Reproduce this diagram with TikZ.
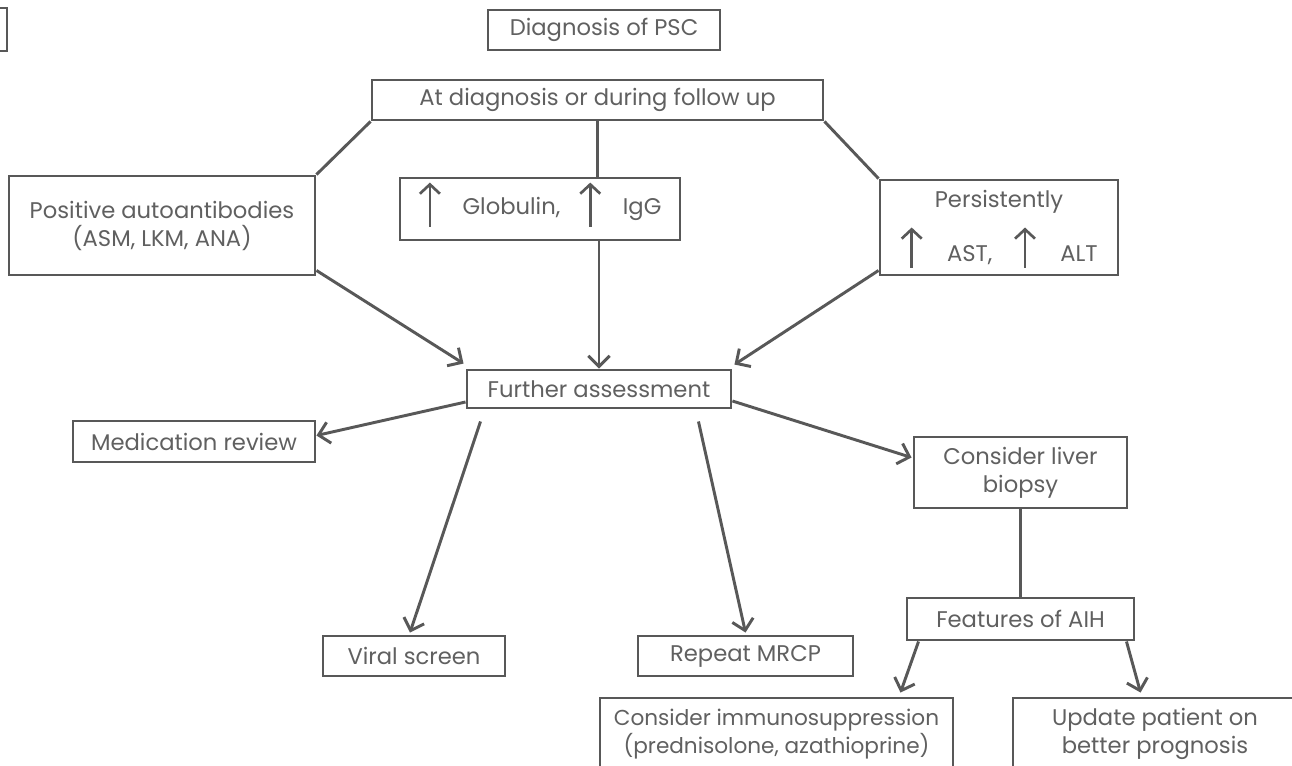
\documentclass[tikz,border=0pt]{standalone}
\usepackage{fontspec}
\setmainfont{Poppins}
\usetikzlibrary{arrows.meta,calc}
\definecolor{ln}{HTML}{585858}
\definecolor{tx}{HTML}{606060}
\newcommand{\uarr}[2]{\smash{\tikz[baseline=0pt]\draw[ln,line width=2pt,-{Straight Barb[length=7pt,width=15pt]}] (0pt,#1) -- (0pt,#2);}}
\begin{document}
\begin{tikzpicture}[x=0.75pt,y=-0.75pt,
  box/.style={draw=ln,line width=2.2pt,text=tx,align=center,inner sep=0pt,
    font=\fontsize{17pt}{21pt}\selectfont},
  sz/.style 2 args={minimum width=#1*0.75pt,minimum height=#2*0.75pt},
  conn/.style={draw=ln,line width=2.2pt},
  arr/.style={draw=ln,line width=2.2pt,-{Straight Barb[length=8pt,width=16pt]}}]
\useasboundingbox (0,0) rectangle (1292,765);
\fill[white] (0,0) rectangle (1292,765);
\clip (0,0) rectangle (1292,765);

\node[box,sz={60}{43}] (frag) at (-23,29.5) {};
\node[box,sz={232}{40}] (psc) at (604,30) {Diagnosis of PSC};
\node[box,sz={451}{40}] (atdx) at (597.5,100) {At diagnosis or during follow up};
\node[box,sz={306}{99}] (pos) at (162,225.5) {Positive autoantibodies\\(ASM, LKM, ANA)};
\node[box,sz={280}{62}] (glob) at (540,209)
  {\uarr{-9pt}{24pt}\hspace{16pt}Globulin,\hspace{14pt}\uarr{-9pt}{24pt}\hspace{16pt}IgG};
\node[box,sz={238}{95}] (pers) at (999,227.5)
  {Persistently\\[19.5pt]\uarr{-4.5pt}{25.5pt}\hspace{18pt}AST,\hspace{16pt}\uarr{-4.5pt}{25.5pt}\hspace{18pt}ALT};
\node[box,sz={264}{38}] (fur) at (599,389) {Further assessment};
\node[box,sz={242}{41}] (med) at (194,441.5) {Medication review};
\node[box,sz={182}{40}] (viral) at (414,656) {Viral screen};
\node[box,sz={215}{40}] (mrcp) at (745.5,656) {Repeat MRCP};
\node[box,sz={213}{71}] (liver) at (1020.5,472.5) {Consider liver\\biopsy};
\node[box,sz={227}{42}] (feat) at (1020.5,619) {Features of AIH};
\node[box,sz={353}{72},font=\fontsize{16.2pt}{21pt}\selectfont] (imm) at (776.5,734) {Consider immunosuppression\\(prednisolone, azathioprine)};
\node[box,sz={284}{72}] (upd) at (1155,734) {Update patient on\\better prognosis};

\draw[conn] (atdx.south west) -- (pos.north east);
\draw[conn] (atdx.south east) -- (pers.north west);
\draw[conn] (atdx.south) -- (atdx.south |- glob.north);
\draw[arr] (fur.north |- glob.south) -- (fur.north);
\draw[arr] ($(pos.south east)+(0,-6)$) -- ($(fur.north west)+(-2,-5)$);
\draw[arr] ($(pers.south west)+(0,-6)$) -- ($(fur.north east)+(2,-4)$);
\draw[arr] ($(fur.west)+(0,13)$) -- ($(med.east)+(0,-6)$);
\draw[arr] ($(fur.south west)+(15,12)$) -- ($(viral.north)+(-4,-2)$);
\draw[arr] ($(fur.south east)+(-34,12)$) -- ($(mrcp.north)+(0,-2)$);
\draw[arr] ($(fur.east)+(0,12)$) -- ($(liver.west)+(-1,-15)$);
\draw[conn] (liver.south) -- (feat.north);
\draw[arr] ($(feat.south west)+(13,0)$) -- ($(imm.north east)+(-54,-4)$);
\draw[arr] ($(feat.south east)+(-9,0)$) -- ($(upd.north west)+(129,-4)$);
\end{tikzpicture}
\end{document}
